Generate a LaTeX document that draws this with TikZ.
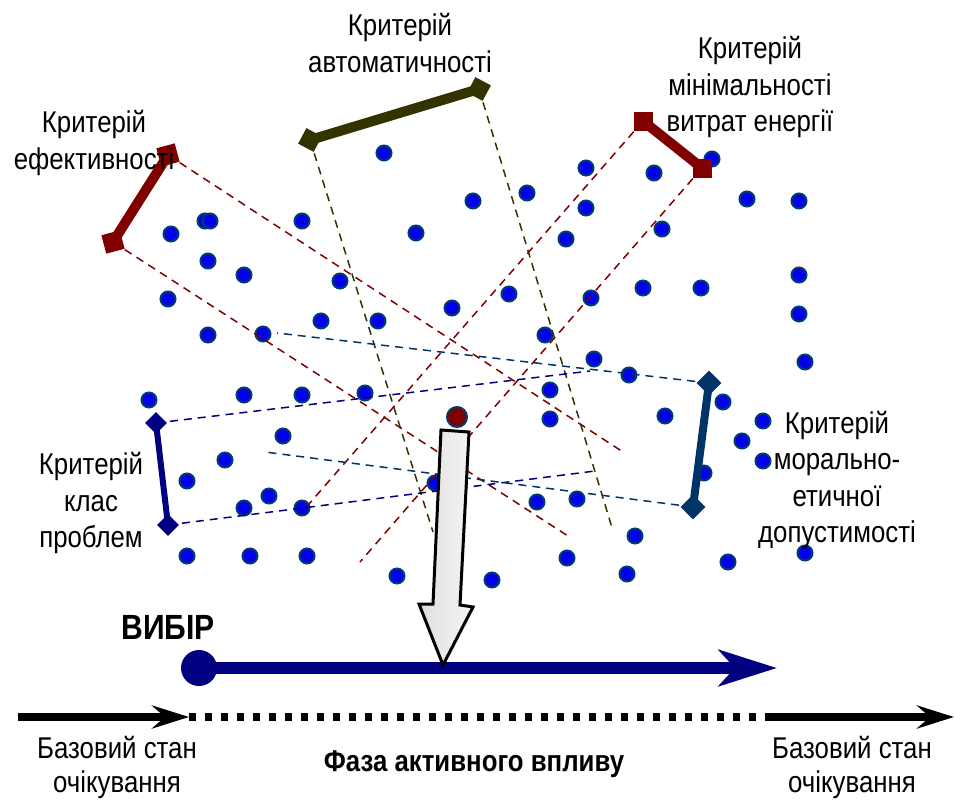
\documentclass[tikz,border=0pt]{standalone}
\usepackage{fontspec}
\setmainfont{Liberation Sans}[FakeStretch=0.86]
\usetikzlibrary{arrows.meta,shapes.geometric}
\definecolor{critred}{RGB}{128,0,0}
\definecolor{critolive}{RGB}{51,51,0}
\definecolor{critnavy}{RGB}{0,0,128}
\definecolor{critsteel}{RGB}{0,51,102}
\definecolor{dotblue}{RGB}{0,0,235}
\definecolor{dotrim}{RGB}{0,60,110}
\begin{document}
\begin{tikzpicture}[x=1pt, y=-1pt,
    dot/.style={circle, fill=dotblue, draw=dotrim, line width=2pt, minimum size=15pt, inner sep=0pt},
    crittext/.style={align=center, inner sep=0pt, font=\fontsize{30}{36.5}\selectfont},
    sqmark/.style={rectangle, minimum size=19pt, inner sep=0pt, fill=#1},
    dmmark/.style={diamond, minimum size=25pt, inner sep=0pt, fill=#1},
    band/.style={#1, dash pattern=on 8pt off 6pt, line width=1.5pt},
    bar/.style={#1, line width=10pt}]
    \useasboundingbox (0,0) rectangle (955,801);

    % Scattered alternatives
    \foreach \x/\y [count=\i] in {384/153, 473/201, 416/233, 527/193, 566/239, 586/168, 586/208,
        654/173, 712/159, 662/229, 747/199, 799/201, 799/275, 799/314, 805/362,
        205/221, 210/221, 171/234, 302/221, 208/261, 244/275, 340/281, 168/299,
        452/308, 509/294, 591/298, 643/288, 701/288, 208/335, 263/334, 321/321,
        378/321, 545/335, 594/359, 629/375, 149/400, 244/395, 302/395, 365/393,
        550/390, 550/419, 665/416, 723/402, 763/421, 742/441, 763/461, 704/473,
        283/436, 225/460, 187/481, 269/496, 244/508, 302/508, 435/483, 537/502,
        577/499, 187/556, 250/556, 307/556, 397/576, 492/580, 567/558, 627/574,
        635/536, 728/562, 805/553}
        \node[dot] (dot\i) at (\x,\y) {};
    \node[dot, fill=critred, minimum size=20pt] (chosen) at (457,417) {};

    % Ends of the criteria bars
    \coordinate (eff1) at (168,155);
    \coordinate (eff2) at (113,242);
    \coordinate (auto1) at (310,140);
    \coordinate (auto2) at (479,89);
    \coordinate (energy1) at (643,121);
    \coordinate (energy2) at (702,168);
    \coordinate (class1) at (156,423);
    \coordinate (class2) at (168,525);
    \coordinate (moral1) at (709,383);
    \coordinate (moral2) at (693,507);

    % Free ends of the dashed bands
    \coordinate (effEnd1) at (623,452);
    \coordinate (effEnd2) at (568,536);
    \coordinate (autoEnd1) at (433,532);
    \coordinate (autoEnd2) at (613,531);
    \coordinate (energyEnd1) at (302,512);
    \coordinate (energyEnd2) at (360,562);
    \coordinate (classEnd1) at (590,371);
    \coordinate (classEnd2) at (595,471);
    \coordinate (moralEnd1) at (277,333);
    \coordinate (moralEnd2) at (265,452);

    % Dashed bands
    \draw[band=critred] (eff1) -- (effEnd1);
    \draw[band=critred] (eff2) -- (effEnd2);
    \draw[band=critolive] (auto1) -- (autoEnd1);
    \draw[band=critolive] (auto2) -- (autoEnd2);
    \draw[band=critred] (energy1) -- (energyEnd1);
    \draw[band=critred] (energy2) -- (energyEnd2);
    \draw[band=critnavy] (class1) -- (classEnd1);
    \draw[band=critnavy] (class2) -- (classEnd2);
    \draw[band=critsteel] (moral1) -- (moralEnd1);
    \draw[band=critsteel] (moral2) -- (moralEnd2);

    % Bars with their markers
    \draw[bar=critred] (eff1) -- (eff2);
    \draw[bar=critolive] (auto1) -- (auto2);
    \draw[bar=critred] (energy1) -- (energy2);
    \draw[bar=critnavy, line width=6pt] (class1) -- (class2);
    \draw[bar=critsteel, line width=8pt] (moral1) -- (moral2);
    \node[sqmark=critred, rotate=15] at (eff1) {};
    \node[sqmark=critred, rotate=15] at (eff2) {};
    \node[dmmark=critolive, rotate=17] at (auto1) {};
    \node[dmmark=critolive, rotate=17] at (auto2) {};
    \node[sqmark=critred] at (energy1) {};
    \node[sqmark=critred] at (energy2) {};
    \node[dmmark=critnavy, minimum size=22pt] at (class1) {};
    \node[dmmark=critnavy, minimum size=22pt] at (class2) {};
    \node[dmmark=critsteel] at (moral1) {};
    \node[dmmark=critsteel] at (moral2) {};

    % Criteria labels
    \node[crittext] (effText) at (94,143) {Критерій\\ефективності};
    \node[crittext] (autoText) at (400,43) {Критерій\\автоматичності};
    \node[crittext] (energyText) at (750,87) {Критерій\\мінімальності\\витрат енергії};
    \node[crittext] (moralText) at (837,480) {Критерій\\морально-\\етичної\\допустимості};
    \node[crittext] (classText) at (91,503) {Критерій\\клас\\проблем};

    % Choice and its direction
    \node[crittext, font=\bfseries\fontsize{35}{40}\selectfont] (choiceText) at (168,627) {ВИБІР};
    \node[circle, fill=critnavy, minimum width=34pt, minimum height=36pt, inner sep=0pt] (choice) at (199,668) {};
    \coordinate (choiceEnd) at (777,668);
    \draw[critnavy, line width=12pt, -{Stealth[length=58pt, width=36pt, inset=16pt]}] (choice.center) -- (choiceEnd);

    % Big arrow from the chosen alternative
    \draw[line width=3pt, line join=miter, left color=gray!25, middle color=white, right color=gray!8]
        (441,430) -- (469,432) -- (460,605) -- (473,607) -- (443,665) -- (419,604) -- (433,604) -- cycle;

    % Time line
    \coordinate (t0) at (18,717);
    \coordinate (t1) at (189,717);
    \coordinate (t2) at (765,717);
    \coordinate (t3) at (954,717);
    \draw[line width=8pt, -{Stealth[length=37pt, width=23pt, inset=13pt]}] (t0) -- (t1);
    \draw[line width=8pt, dash pattern=on 7pt off 9pt] (t1) -- (t2);
    \draw[line width=8pt, -{Stealth[length=37pt, width=23pt, inset=13pt]}] (t2) -- (t3);

    % Phase labels
    \node[crittext, font=\fontsize{30}{34}\selectfont] (baseLeft) at (117,767) {Базовий стан\\очікування};
    \node[crittext, font=\fontsize{30}{34}\selectfont] (baseRight) at (852,767) {Базовий стан\\очікування};
    \node[crittext, font=\bfseries\fontsize{30}{36}\selectfont] (phaseText) at (474,764) {Фаза активного впливу};
\end{tikzpicture}
\end{document}
